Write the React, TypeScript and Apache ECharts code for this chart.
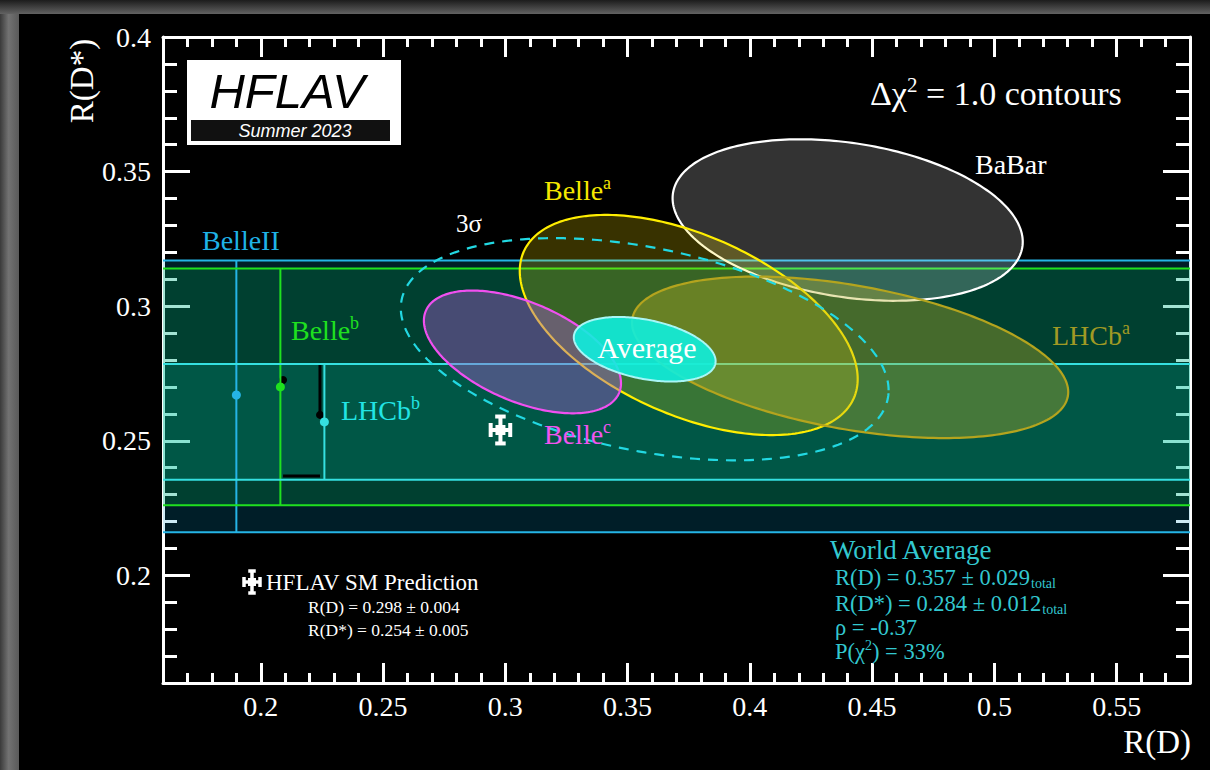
import React, { useEffect, useRef } from "react";
import * as echarts from "echarts";

const SERIF = "'Liberation Serif', 'Times New Roman', Times, serif";
const SANS = "'Liberation Sans', Arial, Helvetica, sans-serif";

// ---- axes ----
const X_RANGE = [0.16, 0.58];
const Y_RANGE = [0.16, 0.4];
const X_MAJOR_TICKS = [0.2, 0.25, 0.3, 0.35, 0.4, 0.45, 0.5, 0.55];
const X_TICK_LABELS = ["0.2", "0.25", "0.3", "0.35", "0.4", "0.45", "0.5", "0.55"];
const Y_MAJOR_TICKS = [0.2, 0.25, 0.3, 0.35, 0.4];
const Y_TICK_LABELS = ["0.2", "0.25", "0.3", "0.35", "0.4"];
const X_MINOR_TICKS = [
  0.17, 0.18, 0.19, 0.21, 0.22, 0.23, 0.24, 0.26, 0.27, 0.28, 0.29, 0.31, 0.32, 0.33, 0.34,
  0.36, 0.37, 0.38, 0.39, 0.41, 0.42, 0.43, 0.44, 0.46, 0.47, 0.48, 0.49, 0.51, 0.52, 0.53,
  0.54, 0.56, 0.57,
];
const Y_MINOR_TICKS = [
  0.17, 0.18, 0.19, 0.21, 0.22, 0.23, 0.24, 0.26, 0.27, 0.28, 0.29, 0.31, 0.32, 0.33, 0.34,
  0.36, 0.37, 0.38, 0.39,
];

// ---- R(D*)-only measurements, drawn as horizontal bands ----
const BAND_LABELS = ["BelleII", "Belle", "LHCb"];
const BAND_SUPS = ["", "b", "b"];
const BAND_RDSTAR = [0.267, 0.27, 0.257];
const BAND_ERR_HI = [0.05, 0.044, 0.0215];
const BAND_ERR_LO = [0.051, 0.044, 0.0215];
const BAND_MARK_X = [0.19, 0.208, 0.226];

// ---- R(D)-R(D*) measurements, drawn as delta-chi2 = 1 ellipses ----
const MEAS_LABELS = ["BaBar", "Belle", "LHCb", "Belle"];
const MEAS_SUPS = ["", "a", "a", "c"];
const MEAS_RD = [0.44, 0.375, 0.441, 0.307];
const MEAS_RD_ERR = [0.0716, 0.0691, 0.0892, 0.0403];
const MEAS_RDSTAR = [0.332, 0.293, 0.281, 0.283];
const MEAS_RDSTAR_ERR = [0.03, 0.0409, 0.03, 0.0228];
const MEAS_RHO = [-0.27, -0.49, -0.43, -0.51];

// ---- world average ----
const AVG_RD = 0.357;
const AVG_RD_ERR = 0.029;
const AVG_RDSTAR = 0.284;
const AVG_RDSTAR_ERR = 0.012;
const AVG_RHO = -0.37;
const AVG_PCHI2 = 33;
const DCHI2_CONTOUR = 1.0;
const DCHI2_3SIGMA = 11.83;

// ---- SM prediction ----
const SM_RD = 0.298;
const SM_RD_ERR = 0.004;
const SM_RDSTAR = 0.254;
const SM_RDSTAR_ERR = 0.005;

// leftover dark marks under the LHCb band
const DARK_MARK_X = [0.2242, 0.2091];
const DARK_MARK_Y = [0.2596, 0.2726];
const DARK_BAR_TOP = 0.2789;
const DARK_CAP_Y = 0.2369;

// ---- styles ----
const BAND_LINE_COLORS = ["#25b4e6", "#1fe01f", "#35e0e0"];
const BAND_FILL_COLORS = ["rgba(0,150,200,0.2)", "rgba(0,200,80,0.2)", "rgba(0,220,200,0.15)"];
const BAND_TEXT_COLORS = ["#1fb2e6", "#1fe01f", "#22e4e4"];
const MEAS_STROKES = ["#ffffff", "#ffee00", "#b4a41e", "#f050f0"];
const MEAS_FILLS = [
  "rgba(255,255,255,0.2)",
  "rgba(255,228,0,0.22)",
  "rgba(190,180,40,0.36)",
  "rgba(170,90,210,0.42)",
];
const MEAS_TEXT_COLORS = ["#ffffff", "#f5e800", "#a09a24", "#f055f0"];
const AVG_COLOR = "#33c8d0";

let measureCtx: CanvasRenderingContext2D | null = null;
function textWidth(text: string, size: number, family: string) {
  if (!measureCtx) measureCtx = document.createElement("canvas").getContext("2d");
  if (!measureCtx) return text.length * size * 0.45;
  measureCtx.font = `${size}px ${family}`;
  return measureCtx.measureText(text).width;
}

function ellipsePoints(api: any, mx: number, sx: number, my: number, sy: number, rho: number, dchi2: number) {
  const k = Math.sqrt(dchi2);
  const s = Math.sqrt(1 - rho * rho);
  const pts: number[][] = [];
  const n = 240;
  for (let i = 0; i < n; i++) {
    const t = (i / n) * Math.PI * 2;
    const c = Math.cos(t);
    const sn = Math.sin(t);
    pts.push(api.coord([mx + k * sx * c, my + k * sy * (rho * c + s * sn)]));
  }
  return pts;
}

function ellipseSeries(
  name: string,
  mx: number,
  sx: number,
  my: number,
  sy: number,
  rho: number,
  dchi2: number,
  style: any,
  z: number
) {
  return {
    type: "custom",
    name,
    xAxisIndex: 0,
    yAxisIndex: 0,
    silent: true,
    z,
    data: [[mx, my, sx, sy, rho]],
    renderItem: (_p: any, api: any) => ({
      type: "polygon",
      shape: {
        points: ellipsePoints(api, api.value(0), api.value(2), api.value(1), api.value(3), api.value(4), dchi2),
      },
      style,
    }),
  };
}

function txt(x: number, y: number, main: string, sup: string, color: string, size: number, extra: any = {}) {
  const supSize = Math.round(size * 0.64);
  return {
    type: "text",
    x,
    y,
    z: 100,
    silent: true,
    style: {
      text: sup ? `{m|${main}}{s|${sup}}` : `{m|${main}}`,
      align: extra.align || "left",
      verticalAlign: "middle",
      rich: {
        m: { fontSize: size, fontFamily: SERIF, fill: color, lineHeight: Math.round(size * 1.15) },
        s: { fontSize: supSize, fontFamily: SERIF, fill: color, lineHeight: supSize, verticalAlign: "top" },
      },
    },
  };
}

// main text followed by a lowered subscript, as two plain text elements
function subText(x: number, y: number, main: string, sub: string, color: string, size: number, subSize: number) {
  const w = textWidth(main, size, SERIF);
  return [
    {
      type: "text",
      x,
      y,
      z: 100,
      silent: true,
      style: { text: main, fontSize: size, fontFamily: SERIF, fill: color, align: "left", verticalAlign: "middle" },
    },
    {
      type: "text",
      x: x + w + 1,
      y: y + 6,
      z: 100,
      silent: true,
      style: { text: sub, fontSize: subSize, fontFamily: SERIF, fill: color, align: "left", verticalAlign: "middle" },
    },
  ];
}

function crossShape(cx: number, cy: number, hx: number, hy: number, cap: number, w: number, box: number) {
  const st = { stroke: "#fff", lineWidth: w };
  return [
    { type: "line", shape: { x1: cx - hx, y1: cy, x2: cx + hx, y2: cy }, style: st },
    { type: "line", shape: { x1: cx, y1: cy - hy, x2: cx, y2: cy + hy }, style: st },
    { type: "line", shape: { x1: cx - hx, y1: cy - cap, x2: cx - hx, y2: cy + cap }, style: st },
    { type: "line", shape: { x1: cx + hx, y1: cy - cap, x2: cx + hx, y2: cy + cap }, style: st },
    { type: "line", shape: { x1: cx - cap * 0.75, y1: cy - hy, x2: cx + cap * 0.75, y2: cy - hy }, style: st },
    { type: "line", shape: { x1: cx - cap * 0.75, y1: cy + hy, x2: cx + cap * 0.75, y2: cy + hy }, style: st },
    { type: "rect", shape: { x: cx - box / 2, y: cy - box / 2, width: box, height: box }, style: { fill: "#fff" } },
  ];
}

const tickFmt = (ticks: number[], labels: string[]) => (v: number) => {
  const i = ticks.findIndex((t) => Math.abs(t - v) < 1e-9);
  return i >= 0 ? labels[i] : "";
};

function makeXAxis(position: string, ticks: number[], len: number, withLine: boolean, withLabels: boolean) {
  return {
    type: "value",
    min: X_RANGE[0],
    max: X_RANGE[1],
    position,
    axisLine: { show: withLine, onZero: false, lineStyle: { color: "#fff", width: 3 } },
    axisTick: { show: true, inside: true, length: len, customValues: ticks, lineStyle: { color: "#fff", width: 3 } },
    axisLabel: withLabels
      ? {
          show: true,
          customValues: X_MAJOR_TICKS,
          formatter: tickFmt(X_MAJOR_TICKS, X_TICK_LABELS),
          color: "#fff",
          fontSize: 28,
          fontFamily: SERIF,
          margin: 9,
        }
      : { show: false },
    splitLine: { show: false },
  };
}

function makeYAxis(position: string, ticks: number[], len: number, withLine: boolean, withLabels: boolean) {
  return {
    type: "value",
    min: Y_RANGE[0],
    max: Y_RANGE[1],
    position,
    axisLine: { show: withLine, onZero: false, lineStyle: { color: "#fff", width: 3 } },
    axisTick: { show: true, inside: true, length: len, customValues: ticks, lineStyle: { color: "#fff", width: 3 } },
    axisLabel: withLabels
      ? {
          show: true,
          customValues: Y_MAJOR_TICKS,
          formatter: tickFmt(Y_MAJOR_TICKS, Y_TICK_LABELS),
          color: "#fff",
          fontSize: 28,
          fontFamily: SERIF,
          margin: 12,
        }
      : { show: false },
    splitLine: { show: false },
  };
}

function buildOption() {
  const bandData = BAND_LABELS.map((_, i) => [
    BAND_MARK_X[i],
    BAND_RDSTAR[i],
    BAND_RDSTAR[i] + BAND_ERR_HI[i],
    BAND_RDSTAR[i] - BAND_ERR_LO[i],
  ]);

  const series: any[] = [
    {
      type: "custom",
      name: "bands",
      xAxisIndex: 0,
      yAxisIndex: 0,
      silent: true,
      z: 1,
      data: bandData,
      renderItem: (p: any, api: any) => {
        const a = api.coord([X_RANGE[0], api.value(2)]);
        const b = api.coord([X_RANGE[1], api.value(3)]);
        return {
          type: "rect",
          shape: { x: a[0], y: a[1], width: b[0] - a[0], height: b[1] - a[1] },
          style: { fill: BAND_FILL_COLORS[p.dataIndex] },
        };
      },
    },
    {
      type: "custom",
      name: "hidden marks",
      xAxisIndex: 0,
      yAxisIndex: 0,
      silent: true,
      z: 2,
      data: [[DARK_MARK_X[0], DARK_MARK_Y[0]]],
      renderItem: (_p: any, api: any) => {
        const top = api.coord([DARK_MARK_X[0], DARK_BAR_TOP]);
        const end = api.coord([api.value(0), api.value(1)]);
        const c1 = api.coord([DARK_MARK_X[1], DARK_CAP_Y]);
        const c2 = api.coord([DARK_MARK_X[0], DARK_CAP_Y]);
        const d2 = api.coord([DARK_MARK_X[1], DARK_MARK_Y[1]]);
        return {
          type: "group",
          children: [
            { type: "line", shape: { x1: top[0], y1: top[1], x2: end[0], y2: end[1] }, style: { stroke: "#000", lineWidth: 3 } },
            { type: "circle", shape: { cx: end[0], cy: end[1], r: 4 }, style: { fill: "#000" } },
            { type: "line", shape: { x1: c1[0], y1: c1[1], x2: c2[0], y2: c2[1] }, style: { stroke: "#000", lineWidth: 3 } },
            { type: "circle", shape: { cx: d2[0], cy: d2[1], r: 4 }, style: { fill: "#000" } },
          ],
        };
      },
    },
    {
      type: "custom",
      name: "band edges",
      xAxisIndex: 0,
      yAxisIndex: 0,
      silent: true,
      z: 3,
      data: bandData,
      renderItem: (p: any, api: any) => {
        const color = BAND_LINE_COLORS[p.dataIndex];
        const mx = api.value(0);
        const hi = api.value(2);
        const lo = api.value(3);
        const h1 = api.coord([X_RANGE[0], hi]);
        const h2 = api.coord([X_RANGE[1], hi]);
        const l1 = api.coord([X_RANGE[0], lo]);
        const l2 = api.coord([X_RANGE[1], lo]);
        const vt = api.coord([mx, hi]);
        const vb = api.coord([mx, lo]);
        const c = api.coord([mx, api.value(1)]);
        const st = { stroke: color, lineWidth: 2 };
        return {
          type: "group",
          children: [
            { type: "line", shape: { x1: h1[0], y1: h1[1], x2: h2[0], y2: h2[1] }, style: st },
            { type: "line", shape: { x1: l1[0], y1: l1[1], x2: l2[0], y2: l2[1] }, style: st },
            { type: "line", shape: { x1: vt[0], y1: vt[1], x2: vb[0], y2: vb[1] }, style: st },
            { type: "circle", shape: { cx: c[0], cy: c[1], r: 4.5 }, style: { fill: color } },
          ],
        };
      },
    },
  ];

  MEAS_LABELS.forEach((name, i) => {
    series.push(
      ellipseSeries(
        name + MEAS_SUPS[i],
        MEAS_RD[i],
        MEAS_RD_ERR[i],
        MEAS_RDSTAR[i],
        MEAS_RDSTAR_ERR[i],
        MEAS_RHO[i],
        DCHI2_CONTOUR,
        { fill: MEAS_FILLS[i], stroke: MEAS_STROKES[i], lineWidth: 2.2 },
        10 + i
      )
    );
  });

  series.push(
    ellipseSeries("Average", AVG_RD, AVG_RD_ERR, AVG_RDSTAR, AVG_RDSTAR_ERR, AVG_RHO, DCHI2_CONTOUR, {
      fill: "rgba(16,238,222,0.9)",
      stroke: "#a8f6f6",
      lineWidth: 2,
    }, 20)
  );
  series.push(
    ellipseSeries("3 sigma", AVG_RD, AVG_RD_ERR, AVG_RDSTAR, AVG_RDSTAR_ERR, AVG_RHO, DCHI2_3SIGMA, {
      fill: "none",
      stroke: "#22d8e2",
      lineWidth: 2.2,
      lineDash: [10, 8],
    }, 21)
  );

  series.push({
    type: "custom",
    name: "SM prediction",
    xAxisIndex: 0,
    yAxisIndex: 0,
    silent: true,
    z: 30,
    data: [[SM_RD, SM_RDSTAR, SM_RD_ERR, SM_RDSTAR_ERR]],
    renderItem: (_p: any, api: any) => {
      const c = api.coord([api.value(0), api.value(1)]);
      const r = api.coord([api.value(0) + api.value(2), api.value(1)]);
      const t = api.coord([api.value(0), api.value(1) + api.value(3)]);
      return {
        type: "group",
        children: crossShape(c[0], c[1], r[0] - c[0], c[1] - t[1], 7, 4, 10),
      };
    },
  });

  const f3 = (v: number) => v.toFixed(3);

  const graphic: any[] = [
    // page frame shading
    {
      type: "rect",
      z: -10,
      silent: true,
      shape: { x: 0, y: 0, width: 19, height: 770 },
      style: {
        fill: new echarts.graphic.LinearGradient(0, 0, 1, 0, [
          { offset: 0, color: "#3a3a3a" },
          { offset: 0.45, color: "#727272" },
          { offset: 1, color: "#5a5a5a" },
        ]),
      },
    },
    {
      type: "rect",
      z: -9,
      silent: true,
      shape: { x: 0, y: 0, width: 1210, height: 14 },
      style: {
        fill: new echarts.graphic.LinearGradient(0, 0, 0, 1, [
          { offset: 0, color: "#1c1c1c" },
          { offset: 1, color: "#626262" },
        ]),
      },
    },
    // HFLAV logo
    { type: "rect", z: 90, silent: true, shape: { x: 187, y: 60, width: 214, height: 85 }, style: { fill: "#fff" } },
    { type: "rect", z: 91, silent: true, shape: { x: 191, y: 120, width: 199, height: 21 }, style: { fill: "#111" } },
    {
      type: "text",
      z: 92,
      x: 287,
      y: 91,
      silent: true,
      style: { text: "HFLAV", fontFamily: SANS, fontStyle: "italic", fontSize: 49, fill: "#000", align: "center", verticalAlign: "middle" },
    },
    {
      type: "text",
      z: 92,
      x: 295,
      y: 131,
      silent: true,
      style: { text: "Summer 2023", fontFamily: SANS, fontStyle: "italic", fontSize: 18, fill: "#fff", align: "center", verticalAlign: "middle" },
    },
    // contour note
    {
      type: "text",
      x: 870,
      y: 93,
      z: 100,
      silent: true,
      style: {
        text: `{m|Δχ}{s|2}{m| = ${DCHI2_CONTOUR.toFixed(1)} contours}`,
        align: "left",
        verticalAlign: "middle",
        rich: {
          m: { fontSize: 34, fontFamily: SERIF, fill: "#fff", lineHeight: 38 },
          s: { fontSize: 21, fontFamily: SERIF, fill: "#fff", lineHeight: 21, verticalAlign: "top" },
        },
      },
    },
    // ellipse labels
    txt(975, 164, MEAS_LABELS[0], MEAS_SUPS[0], MEAS_TEXT_COLORS[0], 28),
    txt(544, 190, MEAS_LABELS[1], MEAS_SUPS[1], MEAS_TEXT_COLORS[1], 28),
    txt(1052, 335, MEAS_LABELS[2], MEAS_SUPS[2], MEAS_TEXT_COLORS[2], 28),
    txt(544, 434, MEAS_LABELS[3], MEAS_SUPS[3], MEAS_TEXT_COLORS[3], 28),
    txt(456, 223, "3σ", "", "#fff", 25),
    txt(647, 347, "Average", "", "#fff", 30, { align: "center" }),
    // band labels
    txt(202, 240, BAND_LABELS[0], BAND_SUPS[0], BAND_TEXT_COLORS[0], 28),
    txt(291, 330, BAND_LABELS[1], BAND_SUPS[1], BAND_TEXT_COLORS[1], 28),
    txt(341, 410, BAND_LABELS[2], BAND_SUPS[2], BAND_TEXT_COLORS[2], 28),
    // world average block
    txt(830, 550, "World Average", "", AVG_COLOR, 27),
    ...subText(835, 577, `R(D) = ${f3(AVG_RD)} ± ${f3(AVG_RD_ERR)}`, "total", AVG_COLOR, 22.5, 14),
    ...subText(835, 603, `R(D*) = ${f3(AVG_RDSTAR)} ± ${f3(AVG_RDSTAR_ERR)}`, "total", AVG_COLOR, 22.5, 14),
    txt(835, 627, `ρ = ${AVG_RHO.toFixed(2)}`, "", AVG_COLOR, 22.5),
    {
      type: "text",
      x: 835,
      y: 651,
      z: 100,
      silent: true,
      style: {
        text: `{m|P(χ}{s|2}{m|) = ${AVG_PCHI2}%}`,
        align: "left",
        verticalAlign: "middle",
        rich: {
          m: { fontSize: 22.5, fontFamily: SERIF, fill: AVG_COLOR, lineHeight: 26 },
          s: { fontSize: 14, fontFamily: SERIF, fill: AVG_COLOR, lineHeight: 14, verticalAlign: "top" },
        },
      },
    },
    // SM prediction legend
    { type: "group", z: 100, silent: true, children: crossShape(252, 582, 8, 11, 5, 3.5, 8) },
    txt(266, 582, "HFLAV SM Prediction", "", "#fff", 23),
    txt(308, 607, `R(D) = ${f3(SM_RD)} ± ${f3(SM_RD_ERR)}`, "", "#fff", 17.5),
    txt(308, 630, `R(D*) = ${f3(SM_RDSTAR)} ± ${f3(SM_RDSTAR_ERR)}`, "", "#fff", 17.5),
    // axis titles
    {
      type: "text",
      x: 82,
      y: 81,
      z: 100,
      rotation: Math.PI / 2,
      silent: true,
      style: { text: "R(D*)", fontFamily: SERIF, fontSize: 33, fill: "#fff", align: "center", verticalAlign: "middle" },
    },
    {
      type: "text",
      x: 1191,
      y: 742,
      z: 100,
      silent: true,
      style: { text: "R(D)", fontFamily: SERIF, fontSize: 33, fill: "#fff", align: "right", verticalAlign: "middle" },
    },
  ];

  return {
    animation: false,
    backgroundColor: "#000",
    textStyle: { fontFamily: SERIF },
    grid: { left: 163, top: 37, width: 1027, height: 646, containLabel: false, outerBoundsMode: "none" },
    xAxis: [
      makeXAxis("bottom", X_MAJOR_TICKS, 20, true, true),
      makeXAxis("bottom", X_MINOR_TICKS, 10, false, false),
      makeXAxis("top", X_MAJOR_TICKS, 20, true, false),
      makeXAxis("top", X_MINOR_TICKS, 10, false, false),
    ],
    yAxis: [
      makeYAxis("left", Y_MAJOR_TICKS, 27, true, true),
      makeYAxis("left", Y_MINOR_TICKS, 14, false, false),
      makeYAxis("right", Y_MAJOR_TICKS, 27, true, false),
      makeYAxis("right", Y_MINOR_TICKS, 14, false, false),
    ],
    series,
    graphic,
  };
}

export default function App() {
  const ref = useRef<HTMLDivElement>(null);
  useEffect(() => {
    if (!ref.current) return;
    const chart = echarts.init(ref.current, undefined, { renderer: "svg" });
    chart.setOption(buildOption() as any);
    return () => chart.dispose();
  }, []);
  return (
    <div
      ref={ref}
      style={{ position: "absolute", left: 0, top: 0, width: 1210, height: 770, background: "#000" }}
    />
  );
}
